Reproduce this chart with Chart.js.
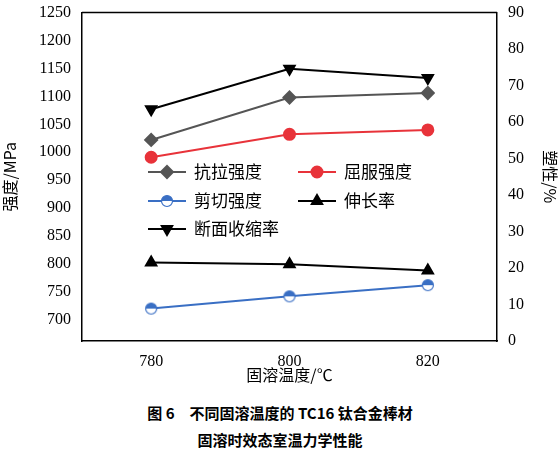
<!DOCTYPE html><html><head><meta charset="utf-8">
<script src="https://cdn.jsdelivr.net/npm/chart.js@4"></script>
<style>body{margin:0;background:#fff;width:560px;height:473px;overflow:hidden}
canvas{display:block}
#cap{font-family:"Noto Sans CJK SC";font-weight:bold;font-size:15px;text-align:center;line-height:27px;color:#000;margin-top:14px}
</style></head><body>
<canvas id="c" width="560" height="385" style="width:560px;height:385px"></canvas>
<div id="cap">图 6　不同固溶温度的 TC16 钛合金棒材<br>固溶时效态室温力学性能</div>
<script>
const temps=[780,800,820];
const tensile=[1022,1098,1106];
const yieldS=[991,1032,1040];
const shear=[720,742,762];
const elong=[21.5,21,19.3];
const reduction=[63.5,74.6,72.1];
const names=['抗拉强度','屈服强度','剪切强度','伸长率','断面收缩率'];
const cols=['#555','#e8333a','#3a6fc4','#000','#000'];
function pts(v){return temps.map((t,i)=>({x:t,y:v[i]}));}
function half(){const c=document.createElement('canvas');c.width=c.height=14;const g=c.getContext('2d');
g.beginPath();g.arc(7,7,5.5,0,Math.PI*2);g.fillStyle='#fff';g.fill();
g.beginPath();g.arc(7,7,5.5,Math.PI,0);g.fillStyle='#3a6fc4';g.fill();
g.beginPath();g.arc(7,7,5.5,0,Math.PI*2);g.strokeStyle='#3a6fc4';g.lineWidth=1.2;g.stroke();return c;}
const hc=half();
const styles=[{ps:'rectRot',r:6},{ps:'circle',r:5.5},{ps:hc,r:6},{ps:'triangle',r:6},{ps:'triangle',r:6,rot:180}];
const ds=[tensile,yieldS,shear,elong,reduction].map((v,i)=>({label:names[i],data:pts(v),borderColor:cols[i],backgroundColor:cols[i],
 borderWidth:2,pointStyle:styles[i].ps,pointRadius:styles[i].r,pointRotation:styles[i].rot||0,yAxisID:i<3?'y':'y2'}));
const legend={id:'lg',afterDraw(ch){const g=ch.ctx;g.save();g.font='17px "Noto Sans CJK SC"';g.textBaseline='middle';
 const a=ch.chartArea;g.strokeStyle='#000';g.lineWidth=1.5;g.beginPath();g.moveTo(a.left,a.top);g.lineTo(a.right,a.top);g.stroke();
 const pos=[[148,172],[298,172],[148,201],[298,201],[148,229]];
 pos.forEach((p,i)=>{g.strokeStyle=cols[i];g.fillStyle=cols[i];g.lineWidth=2;g.beginPath();g.moveTo(p[0],p[1]);g.lineTo(p[0]+38,p[1]);g.stroke();
 Chart.helpers.drawPoint(g,{pointStyle:styles[i].ps,radius:styles[i].r,rotation:styles[i].rot||0,borderWidth:1},p[0]+19,p[1]);
 g.fillStyle='#000';g.fillText(names[i],p[0]+46,p[1]);});
 g.restore();}};
const tf={family:'"Liberation Serif"',size:16};
const tt={family:'"Noto Sans CJK SC"',size:16};
new Chart(document.getElementById('c'),{type:'line',data:{datasets:ds},plugins:[legend],
options:{responsive:false,animation:false,layout:{padding:{top:8,right:0,left:0,bottom:0}},plugins:{legend:{display:false},tooltip:{enabled:false}},
 scales:{x:{type:'linear',min:770,max:830,afterBuildTicks:a=>{a.ticks=temps.map(v=>({value:v}))},afterFit:s=>{s.height=44},
   grid:{display:false},border:{color:'#000',width:1.5},ticks:{color:'#000',font:tf,callback:v=>String(v)},
   title:{display:true,text:'固溶温度/℃',font:tt,color:'#000',padding:0}},
  y:{min:662,max:1250,afterBuildTicks:a=>{const t=[];for(let v=700;v<=1250;v+=50)t.push({value:v});a.ticks=t},afterFit:s=>{s.width=82},
   grid:{display:false},border:{color:'#000',width:1.5},ticks:{color:'#000',font:tf,autoSkip:false,callback:v=>String(v)},
   title:{display:true,text:'强度/MPa',font:tt,color:'#000',padding:0}},
  y2:{position:'right',min:0,max:90,afterFit:s=>{s.width=63},ticks:{stepSize:10,color:'#000',font:tf,autoSkip:false},grid:{display:false},border:{color:'#000',width:1.5},
   title:{display:true,text:'塑性/%',font:tt,color:'#000',padding:0}}}},
});
</script>
</body></html>
